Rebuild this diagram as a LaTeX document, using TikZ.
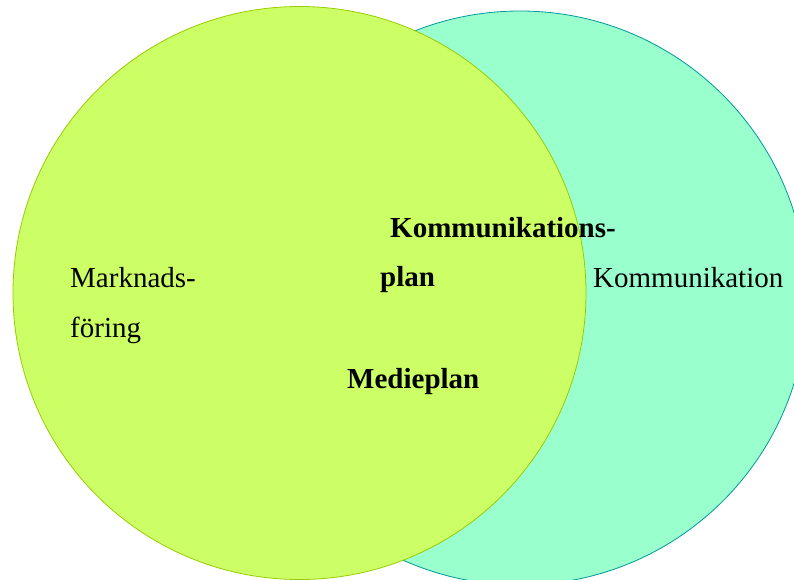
\documentclass[tikz,border=0pt]{standalone}
\usepackage{fontspec}
\setmainfont{Liberation Serif}
\usepackage{xcolor}
\usepackage{tikz}
\usetikzlibrary{positioning}

\definecolor{marketfill}{HTML}{CCFF66}
\definecolor{marketline}{HTML}{99CC00}
\definecolor{commfill}{HTML}{99FFCC}
\definecolor{commline}{HTML}{009999}

\begin{document}
\begin{tikzpicture}[
				x=1pt, y=-1pt,
				setcircle/.style={circle, draw, line width=0.8pt, inner sep=0pt},
				areatext/.style={anchor=base west, inner sep=0pt, font=\fontsize{29}{35}\selectfont},
				plantext/.style={areatext, font=\fontsize{29}{35}\selectfont\bfseries}
			]

			\useasboundingbox (0,0) rectangle (794,579);
			\clip (0,0) rectangle (794,579);

			\node[setcircle, fill=commfill, draw=commline, minimum size=574pt] (komm) at (520,298) {};
			\node[setcircle, fill=marketfill, draw=marketline, minimum size=573pt] (mark) at (299.5,293) {};

			\node[areatext] (marknads) at (70,287) {Marknads-};
			\node[areatext] (foring) at (70,337) {föring};
			\node[areatext] (kommtext) at (593,287) {Kommunikation};
			\node[plantext] (kplan1) at (390,237) {Kommunikations-};
			\node[plantext] (kplan2) at (380,286) {plan};
			\node[plantext] (medieplan) at (347,388) {Medieplan};

		\end{tikzpicture}
\end{document}
